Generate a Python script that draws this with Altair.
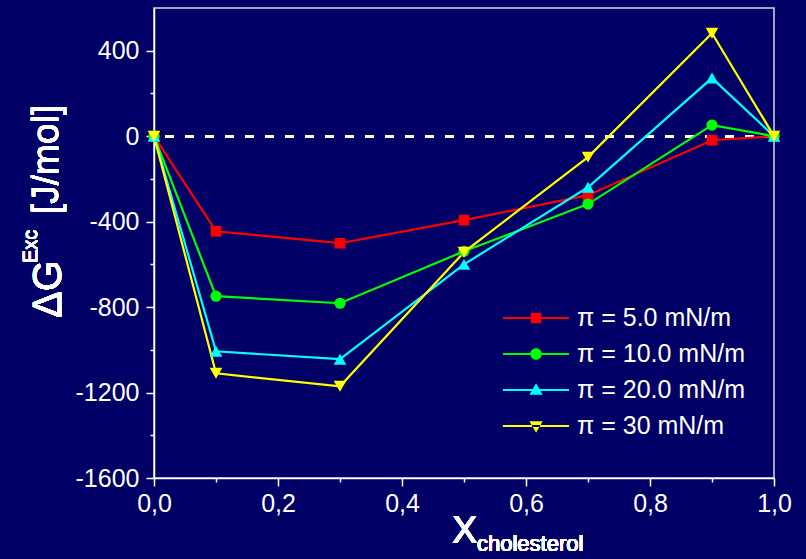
import altair as alt
import pandas as pd

# ---- data ----
x_vals = [0.0, 0.1, 0.3, 0.5, 0.7, 0.9, 1.0]
series_names = ["π = 5.0 mN/m", "π = 10.0 mN/m", "π = 20.0 mN/m", "π = 30 mN/m"]
g_5 = [0, -445, -501, -393, -276, -19, 0]
g_10 = [0, -749, -782, -539, -318, 52, 0]
g_20 = [0, -1007, -1044, -600, -239, 272, 0]
g_30 = [0, -1110, -1171, -543, -98, 482, 0]

x_major = [0.0, 0.2, 0.4, 0.6, 0.8, 1.0]
x_minor = [0.1, 0.3, 0.5, 0.7, 0.9]
y_major = [-1600, -1200, -800, -400, 0, 400]
y_minor = [-1400, -1000, -600, -200, 200]

y_title_main = "ΔG"
y_title_sup = "Exc"
y_title_unit = "[J/mol]"
x_title_main = "X"
x_title_sub = "cholesterol"

# ---- styles ----
colors = ["#ff0000", "#00ff00", "#00ffff", "#ffff00"]
marker_shapes = ["square", "circle", "triangle-up", "triangle-down"]
marker_sizes = [115, 125, 160, 160]
BG = "#000066"
FONT = "Liberation Sans"

# legend symbols: line segment + marker as custom paths (unit = sqrt(size)/2)
cx = -0.83
line_path = "M-2.67,-0.06H1V0.06H-2.67Z"
h = 0.29
sq = f"M{cx-h:.2f},{-h}H{cx+h:.2f}V{h}H{cx-h:.2f}Z"
r = 0.32
ci = f"M{cx+r:.2f},0A{r},{r} 0 1,1 {cx-r:.2f},0A{r},{r} 0 1,1 {cx+r:.2f},0Z"
tw, th1, th2 = 0.37, 0.37, 0.27
tu = f"M{cx:.2f},{-th1}L{cx+tw:.2f},{th2}L{cx-tw:.2f},{th2}Z"
td = f"M{cx:.2f},{th1}L{cx+tw:.2f},{-th2}L{cx-tw:.2f},{-th2}Z"
legend_paths = [line_path + sq, line_path + ci, line_path + tu, line_path + td]

rows = []
for name, vals in zip(series_names, [g_5, g_10, g_20, g_30]):
    for xv, yv in zip(x_vals, vals):
        rows.append({"x": xv, "g": yv, "series": name})
df = pd.DataFrame(rows)

xscale = alt.Scale(domain=[0, 1], nice=False, zero=False)
yscale = alt.Scale(domain=[-1600, 600], nice=False, zero=False)
cscale = alt.Scale(domain=series_names, range=colors)
sscale = alt.Scale(domain=series_names, range=legend_paths)

x_label_expr = "replace(format(datum.value, '.1f'), '.', ',')"
y_label_expr = "'' + datum.value"

x_axis_major = alt.Axis(values=x_major, labelExpr=x_label_expr, title=None, grid=False,
                        tickSize=8, tickWidth=1.5, tickColor="white", domainColor="white",
                        domainWidth=1.5, labelColor="white", labelFont=FONT, labelFontSize=25,
                        labelPadding=5, labelFlush=False, labelOverlap=False, orient="bottom")
y_axis_major = alt.Axis(values=y_major, labelExpr=y_label_expr, title=None, grid=False,
                        tickSize=8, tickWidth=1.5, tickColor="white", domainColor="white",
                        domainWidth=1.5, labelColor="white", labelFont=FONT, labelFontSize=25,
                        labelPadding=7, labelFlush=False, labelOverlap=False, orient="left")
x_axis_minor = alt.Axis(values=x_minor, labels=False, title=None, grid=False, tickSize=4,
                        tickWidth=1.5, tickColor="white", domain=False, orient="bottom")
y_axis_minor = alt.Axis(values=y_minor, labels=False, title=None, grid=False, tickSize=4,
                        tickWidth=1.5, tickColor="white", domain=False, orient="left")

legend_cfg = dict(title=None, orient="none", legendX=379, legendY=292, padding=0,
                  rowPadding=5, symbolSize=1296, symbolStrokeWidth=0, labelOffset=8,
                  labelColor="white", labelFont=FONT, labelFontSize=25, labelLimit=400)

base = alt.Chart(df)

zero_rule = alt.Chart(df).mark_rule(color="white", strokeDash=[9, 11], strokeWidth=2.5).encode(
    y=alt.datum(0, scale=yscale, axis=y_axis_major)
)

lines = base.mark_line(strokeWidth=2.2).encode(
    x=alt.X("x:Q", scale=xscale, axis=x_axis_major),
    y=alt.Y("g:Q", scale=yscale, axis=y_axis_major),
    color=alt.Color("series:N", scale=cscale, legend=alt.Legend(**legend_cfg)),
    detail="series:N",
)

point_layers = []
for name, shp, sz in zip(series_names, marker_shapes, marker_sizes):
    point_layers.append(
        base.transform_filter(alt.datum.series == name).mark_point(
            filled=True, opacity=1, size=sz, shape=shp
        ).encode(
            x=alt.X("x:Q", scale=xscale, axis=x_axis_major),
            y=alt.Y("g:Q", scale=yscale, axis=y_axis_major),
            color=alt.Color("series:N", scale=cscale, legend=alt.Legend(**legend_cfg)),
        )
    )

inner = alt.layer(zero_rule, lines, *point_layers)

# legend-only layer: no rows drawn (filtered out), scales keep their explicit domains
legend_layer = base.transform_filter("false").mark_point(filled=True, opacity=1).encode(
    x=alt.X("x:Q", scale=xscale, axis=x_axis_minor),
    y=alt.Y("g:Q", scale=yscale, axis=y_axis_minor),
    color=alt.Color("series:N", scale=cscale, legend=alt.Legend(**legend_cfg)),
    shape=alt.Shape("series:N", scale=sscale, legend=alt.Legend(**legend_cfg)),
)

def txt(t, size, x, y, angle=0):
    return alt.Chart(df).mark_text(text=t, font=FONT, fontSize=size, color="white",
                                   align="left", baseline="alphabetic", angle=angle).encode(
        x=alt.value(x), y=alt.value(y))

titles = [
    txt(y_title_main, 40, -93, 310, 270),
    txt(y_title_sup, 20, -117, 255, 270),
    txt(y_title_unit, 37, -96, 206, 270),
    txt(x_title_main, 38, 298, 535),
    txt(x_title_sub, 22, 323, 543),
]

chart = alt.layer(inner, legend_layer, *titles).resolve_axis(
    x="independent", y="independent"
).properties(
    width=620, height=470,
    background=BG,
    padding={"left": 154, "top": 8, "right": 32, "bottom": 81},
    autosize=alt.AutoSizeParams(type="none"),
).configure_view(fill=BG, stroke="#d8d8e0", strokeWidth=1.5)

chart.save("out.html", embed_options={"renderer": "svg", "actions": False})
